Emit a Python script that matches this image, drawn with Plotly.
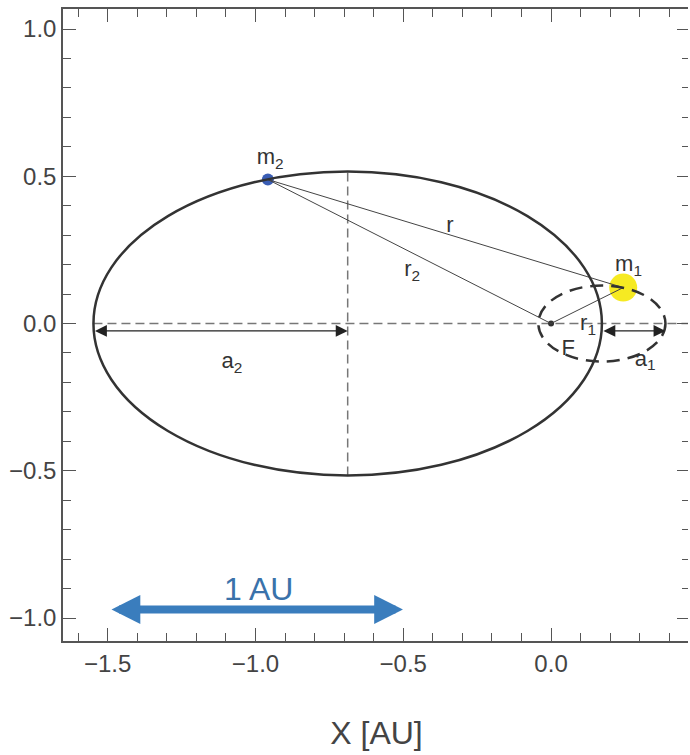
import plotly.graph_objects as go

# ---------------- data ----------------
orbit_names = ["m2 orbit", "m1 orbit"]
orbit_center_x = [-0.688, 0.172]
orbit_center_y = [0.0, 0.0]
orbit_semi_major = [0.86, 0.215]
orbit_semi_minor = [0.516, 0.129]
orbit_dash = ["solid", "13px,8px"]

body_names = ["m1", "m2", "F"]
body_x = [0.244, -0.958, 0.0]
body_y = [0.122, 0.489, 0.0]
body_color = ["#f6ea22", "#3a5db4", "#333333"]
body_size = [28, 12, 6]

segment_from = ["m2", "m2", "F"]
segment_to = ["m1", "F", "m1"]

label_text = ["m<sub>2</sub>", "m<sub>1</sub>", "r", "r<sub>2</sub>",
              "r<sub>1</sub>", "F", "a<sub>2</sub>", "a<sub>1</sub>"]
label_x = [-0.95, 0.262, -0.342, -0.47, 0.125, 0.058, -1.08, 0.318]
label_y = [0.56, 0.197, 0.329, 0.18, -0.003, -0.088, -0.133, -0.125]

dim_x0 = [-1.548, 0.172]
dim_x1 = [-0.688, 0.387]
dim_y = [-0.025, -0.025]

scale_x0, scale_x1, scale_y = -1.492, -0.501, -0.971
scale_label, scale_label_x, scale_label_y = "1 AU", -0.99, -0.90

x_range = [-1.651, 0.47]
y_range = [-1.078, 1.068]
strip_range = [-1.24, 1.229]
x_title = "X [AU]"

# ---------------- figure ----------------
W, H = 690, 755
L = 63
AX = "#555555"
FONT = "Liberation Sans, Arial, sans-serif"

fig = go.Figure()

# bodies (drawn first, lines pass over them as in the reference)
fig.add_trace(go.Scatter(x=body_x, y=body_y, mode="markers",
                         marker=dict(color=body_color, size=body_size, opacity=1,
                                     line=dict(width=0)),
                         text=body_names, showlegend=False))

# connecting lines
pos = {n: (x, y) for n, x, y in zip(body_names, body_x, body_y)}
for a, b in zip(segment_from, segment_to):
    fig.add_trace(go.Scatter(x=[pos[a][0], pos[b][0]], y=[pos[a][1], pos[b][1]],
                             mode="lines", line=dict(color="#444444", width=1),
                             hoverinfo="skip", showlegend=False))

# labels
fig.add_trace(go.Scatter(x=label_x, y=label_y, mode="text", text=label_text,
                         textfont=dict(family=FONT, size=22, color="#333333"),
                         hoverinfo="skip", showlegend=False))

shapes = []
# dashed guide lines
shapes.append(dict(type="line", xref="x", yref="y",
                   x0=orbit_center_x[0] - orbit_semi_major[0], x1=x_range[1],
                   y0=0, y1=0, layer="below",
                   line=dict(color="#777777", width=1.5, dash="9px,5px")))
shapes.append(dict(type="line", xref="x", yref="y",
                   x0=orbit_center_x[0], x1=orbit_center_x[0],
                   y0=-orbit_semi_minor[0], y1=orbit_semi_minor[0], layer="below",
                   line=dict(color="#777777", width=1.5, dash="9px,5px")))
# orbits
for cx, cy, a, b, d in zip(orbit_center_x, orbit_center_y, orbit_semi_major,
                           orbit_semi_minor, orbit_dash):
    shapes.append(dict(type="circle", xref="x", yref="y", x0=cx - a, x1=cx + a,
                       y0=cy - b, y1=cy + b, layer="above",
                       line=dict(color="#333333", width=2.5, dash=d)))
# hide the right frame line that sits on the window edge
shapes.append(dict(type="line", xref="paper", yref="paper", x0=1, x1=1,
                   y0=-0.01, y1=1.01, layer="above",
                   line=dict(color="white", width=4)))

annotations = []
for x0, x1, y in zip(dim_x0, dim_x1, dim_y):
    annotations.append(dict(x=x1, y=y, ax=x0, ay=y, xref="x", yref="y",
                            axref="x", ayref="y", text="", showarrow=True,
                            arrowside="end+start", arrowhead=2, startarrowhead=2,
                            arrowsize=1.7, startarrowsize=1.7, arrowwidth=1.4,
                            arrowcolor="#222222", standoff=0, startstandoff=0))
annotations.append(dict(x=scale_x1, y=scale_y, ax=scale_x0, ay=scale_y,
                        xref="x", yref="y", axref="x", ayref="y", text="",
                        showarrow=True, arrowside="end+start", arrowhead=2,
                        startarrowhead=2, arrowsize=0.72, startarrowsize=0.72,
                        arrowwidth=8, arrowcolor="#3a7dbd", standoff=0,
                        startstandoff=0))
annotations.append(dict(x=scale_label_x, y=scale_label_y, xref="x", yref="y",
                        text=scale_label, showarrow=False,
                        font=dict(family=FONT, size=32, color="#3a72aa")))

fig.update_layout(
    width=W, height=H,
    margin=dict(l=0, r=0, t=9, b=114),
    paper_bgcolor="white", plot_bgcolor="white",
    font=dict(family=FONT, color="#444444"),
    showlegend=False,
    shapes=shapes,
    annotations=annotations,
    xaxis=dict(domain=[L / W, 1], range=x_range, showgrid=False, zeroline=False,
               showline=True, linecolor=AX, linewidth=1.5, mirror="ticks",
               ticks="inside", ticklen=13, tickwidth=1.3, tickcolor=AX,
               tick0=0, dtick=0.5, tickformat=".1f",
               minor=dict(dtick=0.1, tick0=0, ticks="inside", ticklen=8,
                          tickwidth=1.2, tickcolor=AX),
               tickfont=dict(family=FONT, size=24, color="#444444"),
               title=dict(text=x_title, standoff=46,
                          font=dict(family=FONT, size=32, color="#444444")),
               automargin=False),
    yaxis=dict(domain=[0, 1], range=y_range, showgrid=False, zeroline=False,
               showline=True, linecolor=AX, linewidth=1.5, mirror="ticks",
               ticks="inside", ticklen=13, tickwidth=1.3, tickcolor=AX,
               tick0=0, dtick=0.5, tickformat=".1f",
               minor=dict(dtick=0.1, tick0=0, ticks="inside", ticklen=8,
                          tickwidth=1.2, tickcolor=AX),
               tickfont=dict(family=FONT, size=24, color="#444444"),
               automargin=False),
    xaxis2=dict(domain=[0, 5 / W], range=[0, 1], anchor="y2", showgrid=False,
                zeroline=False, showline=True, linecolor=AX, linewidth=1.5,
                mirror=True, showticklabels=False, ticks=""),
    yaxis2=dict(domain=[0, 1], range=strip_range, anchor="x2", side="right",
                showgrid=False, zeroline=False, showline=True, linecolor=AX,
                linewidth=1.5, mirror=False, ticks="inside", ticklen=5,
                tickwidth=1.2, tickcolor=AX, tick0=0, dtick=0.1,
                showticklabels=False),
)

fig.write_html("out.html")
